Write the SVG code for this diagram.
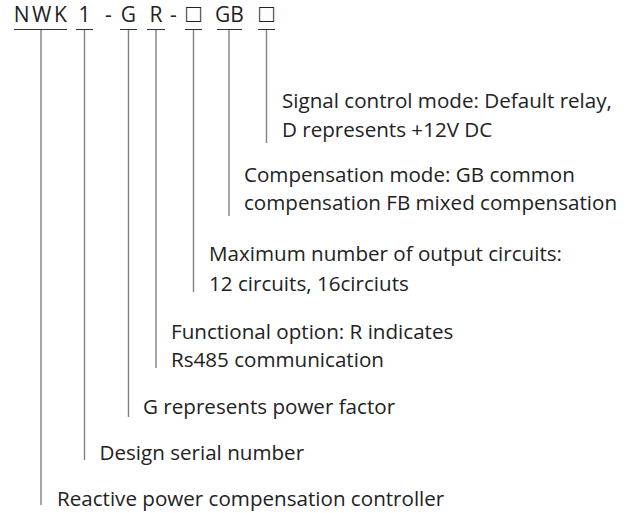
<svg xmlns="http://www.w3.org/2000/svg" width="634" height="513" viewBox="0 0 634 513">
<style>
text{font-family:"Open Sans","Noto Sans","DejaVu Sans",sans-serif;fill:#222;}
.hd{font-size:21px;text-anchor:middle;}
.sq{font-family:"DejaVu Sans",sans-serif;font-size:25px;font-weight:300;}
.lb{font-size:20.6px;}
.ul{stroke:#333;stroke-width:1.2;fill:none;}
.ld{stroke:#808080;stroke-width:1.4;fill:none;}
</style>
<rect width="634" height="513" fill="#fff"/>
<g id="code">
<text class="hd" x="41.5" y="21.5" letter-spacing="2.5">NWK</text>
<text class="hd" x="84.5" y="21.5">1</text>
<text class="hd" x="108.5" y="21.5">-</text>
<text class="hd" x="128.5" y="21.5">G</text>
<text class="hd" x="156" y="21.5">R</text>
<text class="hd" x="173.5" y="21.5">-</text>
<text class="hd sq" x="193.5" y="22">□</text>
<text class="hd" x="229.5" y="21.5">GB</text>
<text class="hd sq" x="266.5" y="22">□</text>
<path class="ul" d="M14 29.5H67M76 29.5H93M120 29.5H137M147 29.5H165M185 29.5H202M217 29.5H242M258 29.5H275"/>
</g>
<g id="connectors">
<path class="ld" d="M41 30V505"/>
<path class="ld" d="M84.5 30V460"/>
<path class="ld" d="M128.5 30V417"/>
<path class="ld" d="M156 30V368"/>
<path class="ld" d="M193.5 30V292"/>
<path class="ld" d="M229 30V216"/>
<path class="ld" d="M266.5 30V143"/>
</g>
<g id="signal"><text class="lb" x="282" y="107.5">Signal control mode: Default relay,</text><text class="lb" x="282" y="136.5">D represents +12V DC</text></g>
<g id="compensation"><text class="lb" x="244" y="181.5">Compensation mode: GB common</text><text class="lb" x="244" y="210">compensation FB mixed compensation</text></g>
<g id="circuits"><text class="lb" x="209" y="261">Maximum number of output circuits:</text><text class="lb" x="209" y="290.5">12 circuits, 16circiuts</text></g>
<g id="function"><text class="lb" x="171" y="339">Functional option: R indicates</text><text class="lb" x="171" y="367">Rs485 communication</text></g>
<g id="gfactor"><text class="lb" x="143" y="414">G represents power factor</text></g>
<g id="serial"><text class="lb" x="99.5" y="460">Design serial number</text></g>
<g id="controller"><text class="lb" x="57" y="505.5">Reactive power compensation controller</text></g>
</svg>
